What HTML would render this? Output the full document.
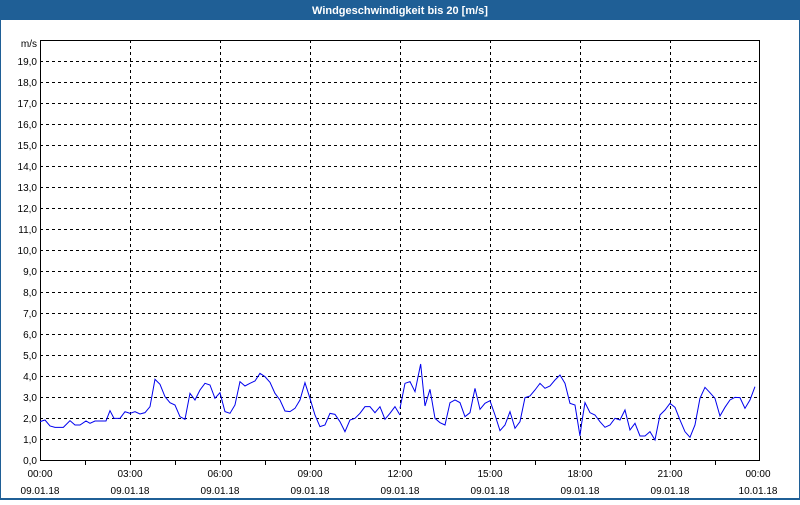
<!DOCTYPE html>
<html><head><style>
body{margin:0;width:800px;height:500px;overflow:hidden;background:#fff;font-family:"Liberation Sans",sans-serif}
</style></head><body>
<svg width="800" height="500" xmlns="http://www.w3.org/2000/svg" font-family="Liberation Sans, sans-serif" font-size="10">
<rect x="0" y="0" width="800" height="500" fill="#1f5f96"/>
<rect x="1" y="20" width="798" height="478" fill="#fff"/>
<text x="400" y="14" fill="#fff" font-weight="bold" font-size="11" text-anchor="middle">Windgeschwindigkeit bis 20 [m/s]</text>
<g stroke="#000" stroke-dasharray="3,3" stroke-width="1">
<line x1="40" x2="760" y1="439.5" y2="439.5"/><line x1="40" x2="760" y1="418.5" y2="418.5"/><line x1="40" x2="760" y1="397.5" y2="397.5"/><line x1="40" x2="760" y1="376.5" y2="376.5"/><line x1="40" x2="760" y1="355.5" y2="355.5"/><line x1="40" x2="760" y1="334.5" y2="334.5"/><line x1="40" x2="760" y1="313.5" y2="313.5"/><line x1="40" x2="760" y1="292.5" y2="292.5"/><line x1="40" x2="760" y1="271.5" y2="271.5"/><line x1="40" x2="760" y1="250.5" y2="250.5"/><line x1="40" x2="760" y1="229.5" y2="229.5"/><line x1="40" x2="760" y1="208.5" y2="208.5"/><line x1="40" x2="760" y1="187.5" y2="187.5"/><line x1="40" x2="760" y1="166.5" y2="166.5"/><line x1="40" x2="760" y1="145.5" y2="145.5"/><line x1="40" x2="760" y1="124.5" y2="124.5"/><line x1="40" x2="760" y1="103.5" y2="103.5"/><line x1="40" x2="760" y1="82.5" y2="82.5"/><line x1="40" x2="760" y1="61.5" y2="61.5"/>
<line y1="40" y2="460" x1="130.5" x2="130.5"/><line y1="40" y2="460" x1="220.5" x2="220.5"/><line y1="40" y2="460" x1="310.5" x2="310.5"/><line y1="40" y2="460" x1="400.5" x2="400.5"/><line y1="40" y2="460" x1="490.5" x2="490.5"/><line y1="40" y2="460" x1="580.5" x2="580.5"/><line y1="40" y2="460" x1="670.5" x2="670.5"/>
</g>
<rect x="40.5" y="40.5" width="719" height="420" fill="none" stroke="#000"/>
<g stroke="#000"><line x1="85.5" x2="85.5" y1="460" y2="465"/><line x1="175.5" x2="175.5" y1="460" y2="465"/><line x1="265.5" x2="265.5" y1="460" y2="465"/><line x1="355.5" x2="355.5" y1="460" y2="465"/><line x1="445.5" x2="445.5" y1="460" y2="465"/><line x1="535.5" x2="535.5" y1="460" y2="465"/><line x1="625.5" x2="625.5" y1="460" y2="465"/><line x1="715.5" x2="715.5" y1="460" y2="465"/>
<line x1="130.5" x2="130.5" y1="460" y2="465"/><line x1="220.5" x2="220.5" y1="460" y2="465"/><line x1="310.5" x2="310.5" y1="460" y2="465"/><line x1="400.5" x2="400.5" y1="460" y2="465"/><line x1="490.5" x2="490.5" y1="460" y2="465"/><line x1="580.5" x2="580.5" y1="460" y2="465"/><line x1="670.5" x2="670.5" y1="460" y2="465"/></g>
<g text-anchor="end" fill="#000">
<text x="37" y="47">m/s</text>
<text x="37" y="464">0,0</text><text x="37" y="443">1,0</text><text x="37" y="422">2,0</text><text x="37" y="401">3,0</text><text x="37" y="380">4,0</text><text x="37" y="359">5,0</text><text x="37" y="338">6,0</text><text x="37" y="317">7,0</text><text x="37" y="296">8,0</text><text x="37" y="275">9,0</text><text x="37" y="254">10,0</text><text x="37" y="233">11,0</text><text x="37" y="212">12,0</text><text x="37" y="191">13,0</text><text x="37" y="170">14,0</text><text x="37" y="149">15,0</text><text x="37" y="128">16,0</text><text x="37" y="107">17,0</text><text x="37" y="86">18,0</text><text x="37" y="65">19,0</text>
</g>
<g text-anchor="middle" fill="#000">
<text x="40" y="477">00:00</text><text x="40" y="494">09.01.18</text>
<text x="130" y="477">03:00</text><text x="130" y="494">09.01.18</text>
<text x="220" y="477">06:00</text><text x="220" y="494">09.01.18</text>
<text x="310" y="477">09:00</text><text x="310" y="494">09.01.18</text>
<text x="400" y="477">12:00</text><text x="400" y="494">09.01.18</text>
<text x="490" y="477">15:00</text><text x="490" y="494">09.01.18</text>
<text x="580" y="477">18:00</text><text x="580" y="494">09.01.18</text>
<text x="670" y="477">21:00</text><text x="670" y="494">09.01.18</text>
<text x="758" y="477">00:00</text><text x="758" y="494">10.01.18</text>
</g>
<g fill="none" stroke="#0000ee" stroke-width="1">
<polyline transform="translate(0,350) scale(0.3333)" vector-effect="non-scaling-stroke" points="120,215 135,210 150,228 165,232 190,232 210,212 225,225 240,225 258,213 270,220 285,213 318,213 330,182 342,205 360,205 375,185 390,190 405,185 420,192 435,188 450,170 465,88 480,103 495,140 510,158 525,165 540,200 555,208 570,130 585,150 600,120 615,100 630,105 645,145 660,128 675,185 690,190 705,165 720,95 735,108 750,100 765,93 780,70 795,80 810,97 825,130 840,150 855,183 870,185 885,175 900,150 915,98 930,145 945,195 960,230 975,225 990,190 1005,193 1020,215 1035,245 1050,210 1065,205 1080,190 1095,170 1110,170 1125,188 1140,170 1155,208 1170,190 1185,170 1200,195"/>
<polyline transform="translate(400,350) scale(0.3333)" vector-effect="non-scaling-stroke" points="0,175 15,100 30,95 45,125 62,42 75,168 90,118 105,205 120,218 135,225 150,158 165,150 180,158 195,200 210,188 225,115 240,178 255,160 270,152 285,195 300,242 315,225 330,185 345,235 360,215 375,143 390,138 405,120 420,100 435,115 450,108 465,90 480,75 495,100 510,160 525,165 540,258 545,220 555,158 570,188 585,195 600,215 615,232 630,225 645,205 660,210 675,180 690,240 705,220 720,258 735,258 750,245 765,270 780,195 795,180 810,160 825,172 840,210 855,245 870,262 885,225 900,145 915,112 930,128 945,145 960,198 975,172 990,150 1005,142 1020,143 1035,175 1050,150 1065,110"/>
</g>
</svg>
</body></html>
